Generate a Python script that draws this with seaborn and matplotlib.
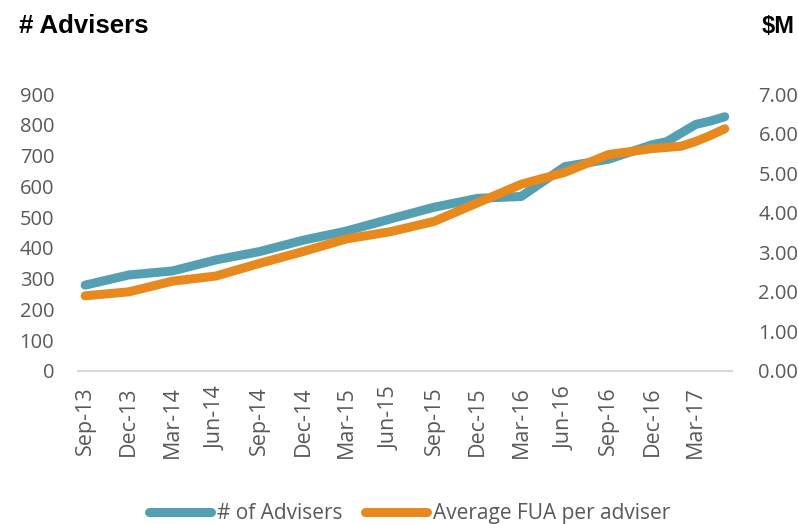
import seaborn as sns
import matplotlib.pyplot as plt
import pandas as pd
import numpy as np

# observed vertices of the two lines (quarterly, monthly near the end)
months = ["2013-09", "2013-12", "2014-03", "2014-06", "2014-09", "2014-12",
          "2015-03", "2015-06", "2015-09", "2015-12", "2016-03", "2016-06",
          "2016-09", "2016-12", "2017-01", "2017-02", "2017-03", "2017-04",
          "2017-05"]
advisers = [279, 312, 325, 361, 388, 425, 455, 494, 532, 561, 567, 664,
            688, 735, 745, 773, 801, 812, 826]
avg_fua = [1.90, 2.00, 2.27, 2.40, 2.72, 3.02, 3.34, 3.52, 3.78, 4.25, 4.72,
           5.02, 5.47, 5.62, 5.65, 5.68, 5.80, 5.95, 6.12]
tick_labels = ["Sep-13", "Dec-13", "Mar-14", "Jun-14", "Sep-14", "Dec-14",
               "Mar-15", "Jun-15", "Sep-15", "Dec-15", "Mar-16", "Jun-16",
               "Sep-16", "Dec-16", "Mar-17"]
left_ticks = [0, 100, 200, 300, 400, 500, 600, 700, 800, 900]
right_ticks = [0, 1, 2, 3, 4, 5, 6, 7]

teal = "#559FB3"
orange = "#E8891E"
grey = "#595959"

sns.set_style("white")
plt.rcParams['font.family'] = ['Open Sans', 'DejaVu Sans']

start = pd.Period("2013-09", freq="M")
df = pd.DataFrame({
    "m": [(pd.Period(m, freq="M") - start).n for m in months],
    "advisers": advisers,
    "fua": avg_fua,
})
n_months = (pd.Period("2017-05", freq="M") - start).n + 1

fig = plt.figure(figsize=(7.98, 5.24), dpi=100)
ax = fig.add_axes([0.0976, 0.292, 0.8197, 0.5286])
ax2 = ax.twinx()

sns.lineplot(data=df, x="m", y="advisers", ax=ax, color=teal, linewidth=6.5,
             solid_capstyle="round", label="# of Advisers", legend=False)
sns.lineplot(data=df, x="m", y="fua", ax=ax2, color=orange, linewidth=6.5,
             solid_capstyle="round", label="Average FUA per adviser", legend=False)

ax.set_xlim(-0.5, n_months - 0.5)
ax.set_ylim(0, 900)
ax2.set_ylim(0, 7)

# tick marks between categories, labels on the first month of each quarter
bounds = list(np.arange(-0.5, n_months - 0.5, 3)) + [n_months - 0.5]
ax.set_xticks(bounds)
ax.set_xticklabels([])
ax.set_xticks(range(0, 3 * len(tick_labels), 3), minor=True)
ax.set_xticklabels(tick_labels, minor=True, rotation=90)
ax.tick_params(axis="x", which="major", length=6, width=1.5, color="#D9D9D9",
               direction="out")
ax.tick_params(axis="x", which="minor", length=0, pad=11, labelsize=15.5,
               labelcolor=grey)

ax.set_yticks(left_ticks)
ax.set_yticklabels([str(v) for v in left_ticks])
ax2.set_yticks(right_ticks)
ax2.set_yticklabels([f"{v:.2f}" for v in right_ticks])
ax.tick_params(axis="y", length=0, pad=17, labelsize=14.5, labelcolor=grey)
ax2.tick_params(axis="y", length=0, pad=19, labelsize=14.5, labelcolor=grey)

ax.set_xlabel("")
ax.set_ylabel("")
ax2.set_ylabel("")
for a in (ax, ax2):
    for s in ("top", "left", "right"):
        a.spines[s].set_visible(False)
    a.spines["bottom"].set_color("#D9D9D9")
    a.spines["bottom"].set_linewidth(1.5)
    a.grid(False)

fig.text(0.024, 0.950, "# Advisers", fontsize=18.5, fontweight="bold",
         family="Liberation Sans", va="center", ha="left", color="black")
fig.text(0.996, 0.950, "$M", fontsize=17, fontweight="bold",
         family="Liberation Sans", va="center", ha="right", color="black")

h1, l1 = ax.get_legend_handles_labels()
h2, l2 = ax2.get_legend_handles_labels()
fig.legend(h1 + h2, l1 + l2, loc="lower center", bbox_to_anchor=(0.513, -0.036),
           ncol=2, frameon=False, fontsize=15, handlelength=3.0,
           handletextpad=0.25, columnspacing=1.1, labelcolor=grey)

fig.savefig("out.png", dpi=100)
